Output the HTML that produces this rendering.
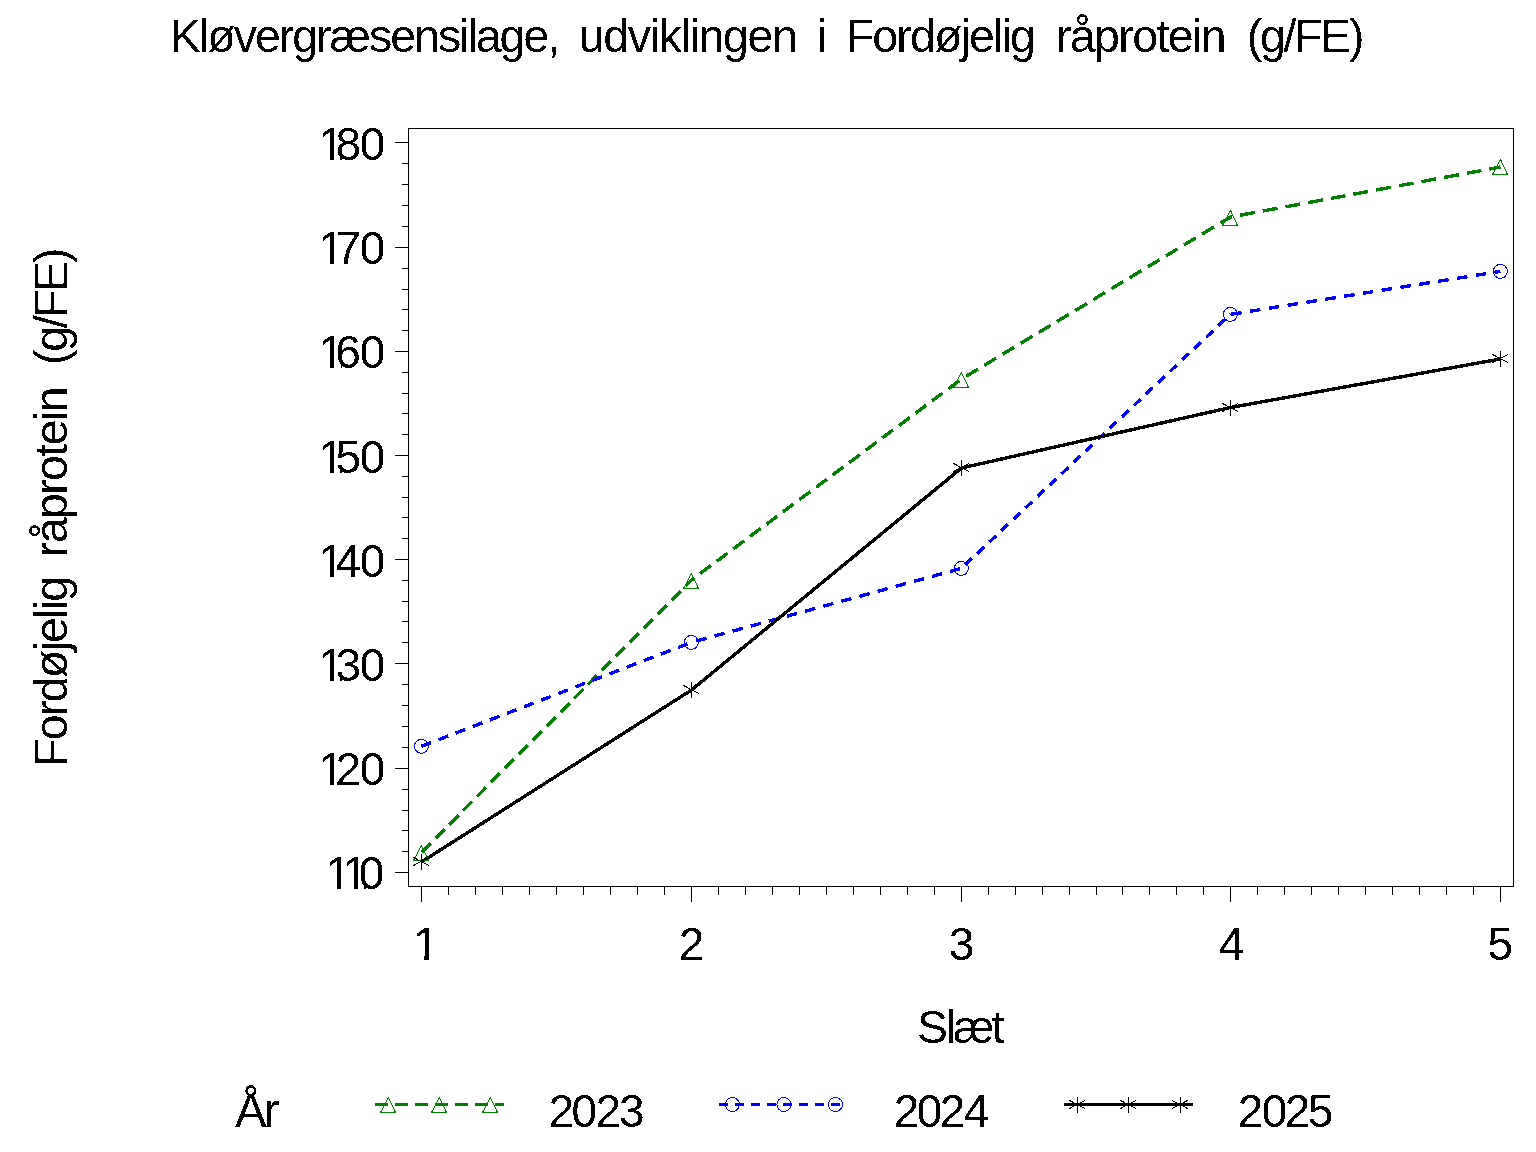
<!DOCTYPE html>
<html><head><meta charset="utf-8"><title>Kløvergræsensilage, udviklingen i Fordøjelig råprotein (g/FE)</title>
<style>
html,body{margin:0;padding:0;background:#fff;overflow:hidden;}
svg{display:block;}
text{font-family:"Liberation Sans", Arial, Helvetica, sans-serif;fill:#000;white-space:pre;}
</style></head>
<body>
<svg width="1536" height="1152" viewBox="0 0 1536 1152" xml:space="preserve">
<defs><filter id="bin" x="-5%" y="-5%" width="110%" height="110%"><feComponentTransfer><feFuncA type="discrete" tableValues="0 1"/></feComponentTransfer></filter></defs>
<rect width="1536" height="1152" fill="#fff"/>
<path d="M408 128.5H1514M408 886.5H1514M408.5 128V887M1513.5 128V887M395 142.5H408M395 247.5H408M395 351.5H408M395 455.5H408M395 559.5H408M395 663.5H408M395 768.5H408M395 872.5H408M402 851.5H408M402 830.5H408M402 810.5H408M402 789.5H408M402 747.5H408M402 726.5H408M402 705.5H408M402 684.5H408M402 642.5H408M402 621.5H408M402 601.5H408M402 580.5H408M402 538.5H408M402 517.5H408M402 497.5H408M402 476.5H408M402 434.5H408M402 413.5H408M402 393.5H408M402 372.5H408M402 330.5H408M402 309.5H408M402 289.5H408M402 268.5H408M402 226.5H408M402 205.5H408M402 184.5H408M402 163.5H408M421.5 887V902M691.5 887V902M961.5 887V902M1230.5 887V902M1500.5 887V902M448.5 887V895M475.5 887V895M502.5 887V895M529.5 887V895M556.5 887V895M583.5 887V895M610.5 887V895M637.5 887V895M664.5 887V895M718.5 887V895M745.5 887V895M772.5 887V895M799.5 887V895M826.5 887V895M853.5 887V895M880.5 887V895M907.5 887V895M934.5 887V895M988.5 887V895M1015.5 887V895M1042.5 887V895M1069.5 887V895M1096.5 887V895M1122.5 887V895M1149.5 887V895M1176.5 887V895M1203.5 887V895M1257.5 887V895M1284.5 887V895M1311.5 887V895M1338.5 887V895M1365.5 887V895M1392.5 887V895M1419.5 887V895M1446.5 887V895M1473.5 887V895" stroke="#000" stroke-width="1" fill="none" shape-rendering="crispEdges"/>
<path d="M421.60 852.40L430.62 843.30M435.48 838.39L444.50 829.29M449.36 824.38L458.38 815.28M463.24 810.38L472.26 801.27M477.12 796.37L486.14 787.26M491.00 782.36L500.02 773.25M504.88 768.35L513.90 759.25M518.76 754.34L527.78 745.24M532.64 740.33L541.66 731.23M546.52 726.33L555.54 717.22M560.40 712.32L569.42 703.21M574.28 698.31L583.30 689.20M588.16 684.30L597.18 675.20M602.04 670.29L611.06 661.19M615.91 656.28L624.94 647.18M629.79 642.28L638.82 633.17M643.67 628.27L652.70 619.16M657.55 614.26L666.58 605.15M671.43 600.25L680.46 591.15M685.31 586.24L691.50 580.00M691.50 580.00L694.41 577.83M700.20 573.52L710.96 565.51M716.76 561.20L727.52 553.18M733.32 548.87L744.08 540.86M749.87 536.55L760.63 528.53M766.43 524.22L777.19 516.21M782.98 511.90L793.74 503.88M799.54 499.57L810.30 491.56M816.10 487.25L826.86 479.23M832.65 474.92L843.41 466.91M849.21 462.60L859.97 454.58M865.76 450.27L876.53 442.26M882.32 437.95L893.08 429.93M898.88 425.62L909.64 417.61M915.43 413.30L926.19 405.28M931.99 400.97L942.75 392.96M948.54 388.65L959.31 380.63M966.20 376.17L978.00 369.06M984.36 365.24L996.15 358.13M1002.51 354.30L1014.31 347.20M1020.66 343.37L1032.46 336.27M1038.81 332.44L1050.61 325.33M1056.96 321.51L1068.76 314.40M1075.12 310.58L1086.92 303.47M1093.27 299.64L1105.07 292.54M1111.42 288.71L1123.22 281.61M1129.57 277.78L1141.37 270.67M1147.73 266.85L1159.53 259.74M1165.88 255.92L1177.68 248.81M1184.03 244.98L1195.83 237.88M1202.18 234.05L1213.98 226.95M1220.34 223.12L1230.50 217.00M1230.50 217.00L1232.17 216.69M1240.11 215.22L1254.84 212.49M1262.77 211.02L1277.50 208.30M1285.44 206.83L1300.17 204.10M1308.10 202.63L1322.83 199.90M1330.77 198.43L1345.50 195.70M1353.43 194.24L1368.16 191.51M1376.09 190.04L1390.83 187.31M1398.76 185.84L1413.49 183.11M1421.42 181.64L1436.16 178.92M1444.09 177.45L1458.82 174.72M1466.75 173.25L1481.49 170.52M1489.42 169.05L1500.50 167.00" stroke="#008000" stroke-width="3.4" fill="none" shape-rendering="crispEdges"/><g fill="#008000" shape-rendering="crispEdges"><circle cx="691.5" cy="580" r="1.7"/><circle cx="1230.5" cy="217" r="1.7"/></g>
<path d="M421.40 746.30L431.02 742.60M438.51 739.72L448.13 736.01M455.61 733.13L465.24 729.43M472.72 726.55L482.34 722.85M489.83 719.97L499.45 716.26M506.94 713.38L516.56 709.68M524.04 706.80L533.67 703.10M541.15 700.22L550.77 696.52M558.26 693.64L567.88 689.93M575.36 687.05L584.99 683.35M592.47 680.47L602.09 676.77M609.58 673.89L619.20 670.18M626.68 667.30L636.31 663.60M643.79 660.72L653.41 657.02M660.90 654.14L670.52 650.43M678.01 647.55L687.63 643.85M696.35 641.04L706.54 638.25M714.47 636.08L724.66 633.28M732.59 631.11L742.78 628.32M750.71 626.14L760.91 623.35M768.83 621.18L779.03 618.38M786.96 616.21L797.15 613.42M805.08 611.24L815.27 608.45M823.20 606.28L833.39 603.48M841.32 601.31L851.51 598.52M859.44 596.34L869.64 593.55M877.56 591.38L887.76 588.58M895.69 586.41L905.88 583.62M913.81 581.44L924.00 578.65M931.93 576.48L942.12 573.68M950.05 571.51L960.24 568.72M965.25 564.76L972.03 558.36M977.30 553.39L984.08 546.99M989.35 542.01L996.13 535.61M1001.40 530.63L1008.17 524.23M1013.44 519.26L1020.22 512.86M1025.49 507.88L1032.27 501.48M1037.54 496.51L1044.32 490.11M1049.59 485.13L1056.37 478.73M1061.64 473.75L1068.41 467.35M1073.68 462.38L1080.46 455.98M1085.73 451.00L1092.51 444.60M1097.78 439.62L1104.56 433.23M1109.83 428.25L1116.60 421.85M1121.88 416.87L1128.65 410.47M1133.92 405.50L1140.70 399.10M1145.97 394.12L1152.75 387.72M1158.02 382.74L1164.80 376.35M1170.07 371.37L1176.84 364.97M1182.11 359.99L1188.89 353.59M1194.16 348.62L1200.94 342.22M1206.21 337.24L1212.99 330.84M1218.26 325.86L1225.04 319.47M1230.31 314.49L1230.40 314.40M1231.08 314.29L1241.66 312.61M1249.89 311.30L1260.48 309.61M1268.71 308.30L1279.29 306.61M1287.52 305.30L1298.10 303.62M1306.33 302.31L1316.92 300.62M1325.15 299.31L1335.73 297.63M1343.96 296.31L1354.54 294.63M1362.77 293.32L1373.35 291.63M1381.58 290.32L1392.17 288.64M1400.40 287.33L1410.98 285.64M1419.21 284.33L1429.79 282.64M1438.02 281.33L1448.61 279.65M1456.84 278.34L1467.42 276.65M1475.65 275.34L1486.23 273.66M1494.46 272.35L1500.40 271.40" stroke="#0000ff" stroke-width="3.4" fill="none" shape-rendering="crispEdges"/>
<path d="M421.50 862.00L691.50 690.00M691.50 690.00L961.50 468.00M961.50 468.00L1230.50 407.50M1230.50 407.50L1500.50 359.00" stroke="#000" stroke-width="3.4" fill="none" shape-rendering="crispEdges"/><g fill="#000" shape-rendering="crispEdges"><circle cx="691.5" cy="690" r="1.7"/><circle cx="961.5" cy="468" r="1.7"/><circle cx="1230.5" cy="407.5" r="1.7"/></g>
<path d="M421.5 845.5L428.5 860.5L413.5 860.5ZM691.5 573.5L698.5 588.5L683.5 588.5ZM961.5 372.5L968.5 387.5L953.5 387.5ZM1230.5 210.5L1237.5 225.5L1222.5 225.5ZM1500.5 159.5L1507.5 174.5L1492.5 174.5Z" stroke="#008000" stroke-width="1" fill="none" stroke-linejoin="bevel" shape-rendering="crispEdges"/>
<g stroke="#0000ff" stroke-width="1" fill="none" shape-rendering="crispEdges"><circle cx="421.4" cy="746.3" r="7"/><circle cx="691.4" cy="642.4" r="7"/><circle cx="961.4" cy="568.4" r="7"/><circle cx="1230.4" cy="314.4" r="7"/><circle cx="1500.4" cy="271.4" r="7"/></g>
<path d="M421.5 854V870M413.5 857.5L429.1 865.6M413.5 865.5L429.1 857.4M691.5 682V698M683.5 685.5L699.1 693.6M683.5 693.5L699.1 685.4M961.5 460V476M953.5 463.5L969.1 471.6M953.5 471.5L969.1 463.4M1230.5 400V416M1222.5 403.5L1238.1 411.6M1222.5 411.5L1238.1 403.4M1500.5 351V367M1492.5 354.5L1508.1 362.6M1492.5 362.5L1508.1 354.4" stroke="#000" stroke-width="1" fill="none" shape-rendering="crispEdges"/>
<path d="M375 1104.5H504" stroke="#008000" stroke-width="3" fill="none" stroke-dasharray="13 7" shape-rendering="crispEdges"/><path d="M388.5 1097.5L395.5 1112.5L380.5 1112.5ZM439.5 1097.5L446.5 1112.5L431.5 1112.5ZM490.5 1097.5L497.5 1112.5L482.5 1112.5Z" stroke="#008000" stroke-width="1" fill="none" stroke-linejoin="bevel" shape-rendering="crispEdges"/>
<path d="M719 1104.5H846" stroke="#0000ff" stroke-width="3" fill="none" stroke-dasharray="9 7" shape-rendering="crispEdges"/><g stroke="#0000ff" stroke-width="1" fill="none" shape-rendering="crispEdges"><circle cx="732.4" cy="1104.5" r="7"/><circle cx="783.85" cy="1104.5" r="7"/><circle cx="835.5" cy="1104.5" r="7"/></g>
<path d="M1064 1104.5H1193" stroke="#000" stroke-width="3" fill="none" shape-rendering="crispEdges"/><path d="M1077.5 1097V1113M1069.5 1100.5L1085.1 1108.6M1069.5 1108.5L1085.1 1100.4M1128.5 1097V1113M1120.5 1100.5L1136.1 1108.6M1120.5 1108.5L1136.1 1100.4M1180.1 1097V1113M1172.1 1100.5L1187.6999999999998 1108.6M1172.1 1108.5L1187.6999999999998 1100.4" stroke="#000" stroke-width="1" fill="none" shape-rendering="crispEdges"/>
<g filter="url(#bin)">
<text y="52" font-size="46.5"><tspan x="170.00" textLength="390.24" lengthAdjust="spacing">Kløvergræsensilage,</tspan>  <tspan x="578.80" textLength="218.97" lengthAdjust="spacing">udviklingen</tspan>  <tspan x="816.80" textLength="10.94" lengthAdjust="spacing">i</tspan>  <tspan x="845.80" textLength="190.03" lengthAdjust="spacing">Fordøjelig</tspan>  <tspan x="1055.90" textLength="170.63" lengthAdjust="spacing">råprotein</tspan>  <tspan x="1246.80" textLength="117.67" lengthAdjust="spacing">(g/FE)</tspan></text>
<text transform="translate(67 0) rotate(-90)" y="0" font-size="46.5"><tspan x="-766.90" textLength="191.03" lengthAdjust="spacing">Fordøjelig</tspan>  <tspan x="-557.20" textLength="170.73" lengthAdjust="spacing">råprotein</tspan>  <tspan x="-364.90" textLength="117.27" lengthAdjust="spacing">(g/FE)</tspan></text>
<text x="318.40 335.46 359.66" y="160" font-size="46">180</text>
<text x="318.40 335.44 359.66" y="264" font-size="46">170</text>
<text x="318.40 335.30 359.66" y="368" font-size="46">160</text>
<text x="318.40 335.50 359.66" y="473" font-size="46">150</text>
<text x="318.40 335.60 359.66" y="577" font-size="46">140</text>
<text x="318.40 335.59 359.66" y="681" font-size="46">130</text>
<text x="318.40 335.46 359.66" y="785" font-size="46">120</text>
<text x="325.40 342.40 358.76" y="889" font-size="46">110</text>
<text x="412.90" y="960" font-size="46">1</text>
<text x="678.86" y="960" font-size="46">2</text>
<text x="948.84" y="960" font-size="46">3</text>
<text x="1218.75" y="960" font-size="46">4</text>
<text x="1487.50" y="960" font-size="46">5</text>
<text x="917.00" y="1043" font-size="46.5" textLength="87.73" lengthAdjust="spacing">Slæt</text>
<text x="235.00" y="1127" font-size="47.5" textLength="44.40" lengthAdjust="spacing">År</text>
<text x="548.61 571.56 595.56 618.89" y="1127" font-size="46">2023</text>
<text x="893.71 916.66 939.66 963.80" y="1127" font-size="46">2024</text>
<text x="1237.71 1261.66 1284.71 1307.80" y="1127" font-size="46">2025</text>
</g>
<g fill="#fff" shape-rendering="crispEdges"><rect x="321.30" y="156.16" width="8.66" height="4.64"/><rect x="334.03" y="156.16" width="5.73" height="4.64"/><rect x="321.30" y="260.16" width="8.66" height="4.64"/><rect x="334.03" y="260.16" width="8.30" height="4.64"/><rect x="321.30" y="364.16" width="8.66" height="4.64"/><rect x="334.03" y="364.16" width="7.30" height="4.64"/><rect x="321.30" y="469.16" width="8.66" height="4.64"/><rect x="334.03" y="469.16" width="5.62" height="4.64"/><rect x="321.30" y="573.16" width="8.66" height="4.64"/><rect x="334.03" y="573.16" width="8.30" height="4.64"/><rect x="321.30" y="677.16" width="8.66" height="4.64"/><rect x="334.03" y="677.16" width="5.84" height="4.64"/><rect x="321.30" y="781.16" width="8.66" height="4.64"/><rect x="334.03" y="781.16" width="3.44" height="4.64"/><rect x="328.30" y="885.16" width="8.66" height="4.64"/><rect x="341.03" y="885.16" width="8.30" height="4.64"/><rect x="345.30" y="885.16" width="8.66" height="4.64"/><rect x="358.03" y="885.16" width="6.27" height="4.64"/><rect x="415.80" y="956.16" width="8.66" height="4.64"/><rect x="428.53" y="956.16" width="8.30" height="4.64"/></g>
</svg>
</body></html>
